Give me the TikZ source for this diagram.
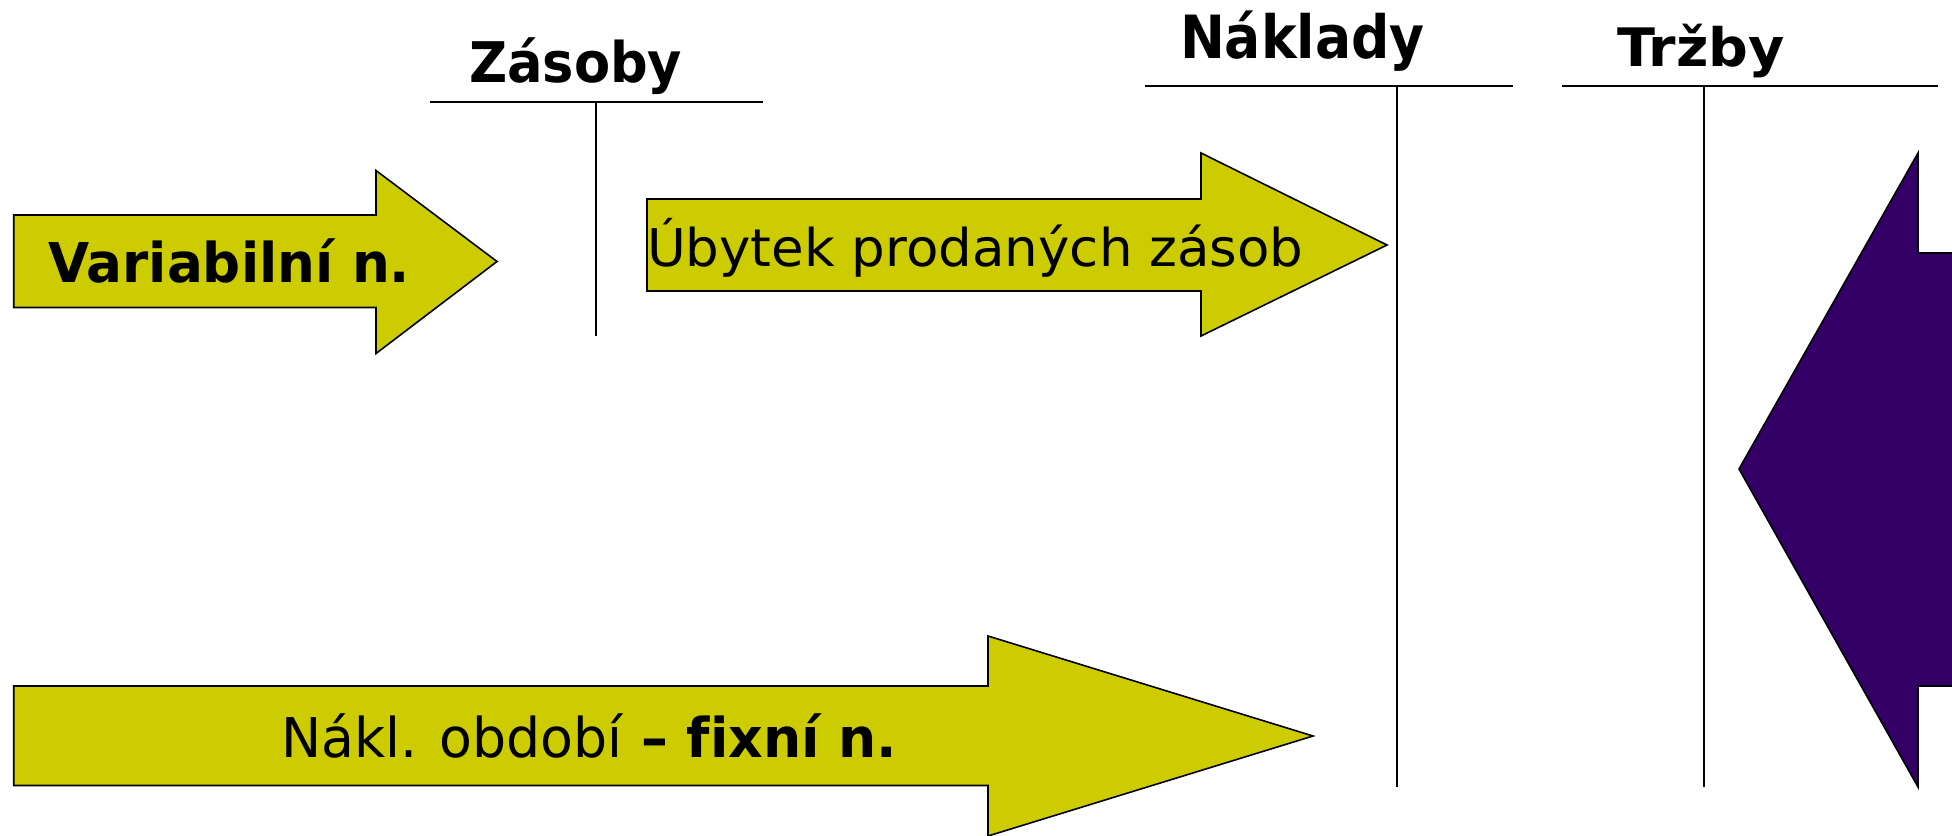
\documentclass[tikz,border=0pt]{standalone}
\usepackage{fontspec}
\setmainfont{DejaVu Sans}
\definecolor{arrowyellow}{HTML}{CCCC00}
\definecolor{arrowpurple}{HTML}{330066}
\tikzset{
  tline/.style={draw=black, line width=1pt},
  yarrow/.style={fill=arrowyellow, draw=black, line width=0.8pt, line join=miter},
  parrow/.style={fill=arrowpurple},
  poutline/.style={draw=black, line width=0.8pt, line join=miter},
  lbl/.style={anchor=base west, inner sep=0pt, outer sep=0pt},
}
\newcommand{\fs}[1]{\fontsize{#1}{#1}\selectfont}
\begin{document}
\begin{tikzpicture}[x=0.5pt, y=-0.5pt]
\useasboundingbox (0,0) rectangle (1952,835);

% T-accounts
\coordinate (zL) at (429.5,102); \coordinate (zR) at (763,102);
\coordinate (zT) at (596,102);   \coordinate (zB) at (596,336);
\draw[tline] (zL) -- (zR); \draw[tline] (zT) -- (zB);
\coordinate (nL) at (1145,86);   \coordinate (nR) at (1513,86);
\coordinate (nT) at (1397,86);   \coordinate (nB) at (1397,787);
\draw[tline] (nL) -- (nR); \draw[tline] (nT) -- (nB);
\coordinate (tL) at (1562,86);   \coordinate (tR) at (1938,86);
\coordinate (tT) at (1704,86);   \coordinate (tB) at (1704,787);
\draw[tline] (tL) -- (tR); \draw[tline] (tT) -- (tB);

\node[lbl] (zasoby)  at (469,82)   {\fs{28}\bfseries\scalebox{0.94}[1]{Zásoby}};
\node[lbl] (naklady) at (1180,58.5) {\fs{29.8}\bfseries\scalebox{0.9}[1]{Náklady}};
\node[lbl] (trzby)   at (1617,66)  {\fs{26.5}\bfseries\scalebox{1.05}[1]{Tržby}};

% yellow arrows
\filldraw[yarrow] (13.7,215) -- (376,215) -- (376,170.5) -- (497,261.5)
  -- (376,353.5) -- (376,307.5) -- (13.7,307.5) -- cycle;
\filldraw[yarrow] (647,199) -- (1201,199) -- (1201,153) -- (1387,245)
  -- (1201,336) -- (1201,291) -- (647,291) -- cycle;
\filldraw[yarrow] (13.7,686) -- (988,686) -- (988,636) -- (1313,736)
  -- (988,836) -- (988,785.5) -- (13.7,785.5) -- cycle;

% purple arrow, running off the right edge
\fill[parrow] (1960,253) -- (1918,253) -- (1918,153) -- (1739,469)
  -- (1918,787) -- (1918,686) -- (1960,686) -- cycle;
\draw[poutline] (1960,253) -- (1918,253) -- (1918,153) -- (1739,469)
  -- (1918,787) -- (1918,686) -- (1960,686);

\node[lbl] (varn) at (48.5,282.6) {\fs{27.4}\bfseries\scalebox{0.97}[1]{Variabilní n.}};
\node[lbl] (ubyt) at (647,266) {\fs{26}\scalebox{1.02}[1]{Úbytek prodaných zásob}};
\node[lbl] (fixn) at (281,757) {\fs{27.4}\scalebox{0.98}[1]{Nákl. období \textbf{– f\kern0pt ixní n.}}};
\end{tikzpicture}
\end{document}
